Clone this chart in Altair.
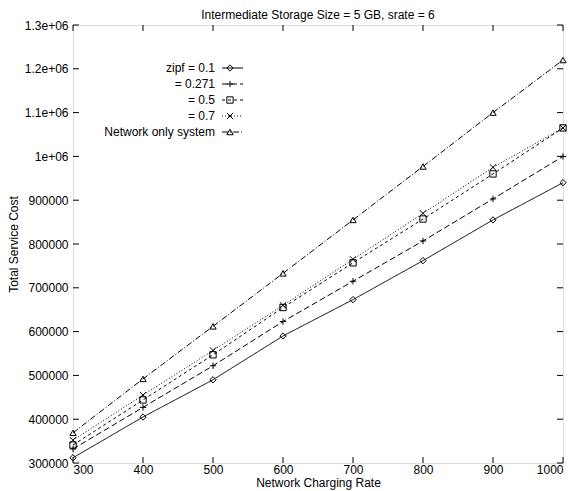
import altair as alt
import pandas as pd

rates = [300, 400, 500, 600, 700, 800, 900, 1000]
zipf_01 = [312000, 405000, 490000, 590000, 673000, 762000, 855000, 940000]
zipf_0271 = [332000, 427000, 522000, 623000, 715000, 807000, 903000, 1000000]
zipf_05 = [341000, 444000, 547000, 655000, 757000, 857000, 960000, 1065000]
zipf_07 = [352000, 455000, 557000, 660000, 765000, 870000, 975000, 1065000]
network_only = [369000, 492000, 612000, 733000, 855000, 977000, 1100000, 1220000]

series_names = ["zipf = 0.1", "= 0.271", "= 0.5", "= 0.7", "Network only system"]
series_vals = [zipf_01, zipf_0271, zipf_05, zipf_07, network_only]

x_ticks = [300, 400, 500, 600, 700, 800, 900, 1000]
y_ticks = [300000, 400000, 500000, 600000, 700000, 800000, 900000,
           1000000, 1100000, 1200000, 1300000]
title_text = "Intermediate Storage Size = 5 GB, srate = 6"

rows = []
for name, vals in zip(series_names, series_vals):
    for r, v in zip(rates, vals):
        rows.append({"series": name, "rate": r, "cost": v})
df = pd.DataFrame(rows)

W, H = 490, 438
FONT = "Liberation Sans"
dashes = [[1, 0], [6, 3], [3, 3], [1, 2], [6, 2, 1, 2]]
shapes = ["diamond", "M-1,0L1,0M0,-1L0,1", "square",
          "M-1,-1L1,1M-1,1L1,-1", "triangle-up"]

xscale = alt.Scale(domain=[300, 1000], nice=False, zero=False)
yscale = alt.Scale(domain=[300000, 1300000], nice=False, zero=False)

x_enc = alt.X("rate:Q", scale=xscale,
              axis=alt.Axis(values=x_ticks, title="Network Charging Rate", format="d",
                            domain=False, ticks=False, grid=False,
                            labelPadding=1, titlePadding=2,
                            labelFont=FONT, labelFontSize=12,
                            titleFont=FONT, titleFontSize=12,
                            titleFontWeight="normal", labelColor="black",
                            titleColor="black"))
y_enc = alt.Y("cost:Q", scale=yscale,
              axis=alt.Axis(values=y_ticks, title="Total Service Cost",
                            labelExpr="datum.value >= 1000000 ? format(datum.value/1000000, '.1~f') + 'e+06' : format(datum.value, 'd')",
                            domain=False, ticks=False, grid=False,
                            labelPadding=5, titlePadding=4,
                            labelFont=FONT, labelFontSize=12,
                            titleFont=FONT, titleFontSize=12,
                            titleFontWeight="normal", labelColor="black",
                            titleColor="black"))

lines = alt.Chart(df).mark_line(color="black", strokeWidth=1).encode(
    x=x_enc, y=y_enc,
    strokeDash=alt.StrokeDash("series:N", scale=alt.Scale(domain=series_names, range=dashes), legend=None),
    detail="series:N",
)
points = alt.Chart(df).mark_point(color="black", filled=False, strokeWidth=1, size=40, opacity=1).encode(
    x=alt.X("rate:Q", scale=xscale),
    y=alt.Y("cost:Q", scale=yscale),
    shape=alt.Shape("series:N", scale=alt.Scale(domain=series_names, range=shapes), legend=None),
)

yt = pd.DataFrame({"v": y_ticks})
xt = pd.DataFrame({"v": x_ticks})
TL = 6
tick_layers = [
    alt.Chart(yt).mark_rule(color="black", strokeWidth=1).encode(
        y=alt.Y("v:Q", scale=yscale), x=alt.value(0), x2=alt.value(TL)),
    alt.Chart(yt).mark_rule(color="black", strokeWidth=1).encode(
        y=alt.Y("v:Q", scale=yscale), x=alt.value(W - TL), x2=alt.value(W)),
    alt.Chart(xt).mark_rule(color="black", strokeWidth=1).encode(
        x=alt.X("v:Q", scale=xscale), y=alt.value(0), y2=alt.value(TL)),
    alt.Chart(xt).mark_rule(color="black", strokeWidth=1).encode(
        x=alt.X("v:Q", scale=xscale), y=alt.value(H - TL), y2=alt.value(H)),
]

legend_layers = []
for i, name in enumerate(series_names):
    ld = pd.DataFrame({"label": [name]})
    ypix = 43 + 16 * i
    legend_layers.append(alt.Chart(ld).mark_text(align="right", baseline="middle", font=FONT, fontSize=12, color="black").encode(
        x=alt.value(142), y=alt.value(ypix), text="label:N"))
    legend_layers.append(alt.Chart(ld).mark_rule(color="black", strokeWidth=1, strokeDash=dashes[i]).encode(
        x=alt.value(149), x2=alt.value(170), y=alt.value(ypix)))
    legend_layers.append(alt.Chart(ld).mark_point(color="black", filled=False, strokeWidth=1, size=40, shape=shapes[i], opacity=1).encode(
        x=alt.value(157), y=alt.value(ypix)))

title_layer = alt.Chart(pd.DataFrame({"t": [title_text]})).mark_text(
    align="center", baseline="middle", font=FONT, fontSize=12, color="black").encode(
    x=alt.value(W / 2), y=alt.value(-10), text="t:N")

chart = alt.layer(lines, points, *tick_layers, *legend_layers, title_layer).properties(
    width=W, height=H,
    padding={"left": 65, "top": 17, "right": 10, "bottom": 28},
    autosize=alt.AutoSizeParams(type="none"),
).configure_view(stroke="black", strokeWidth=1).configure(background="white")

chart.save("out.html", embed_options={"renderer": "svg", "actions": False})
